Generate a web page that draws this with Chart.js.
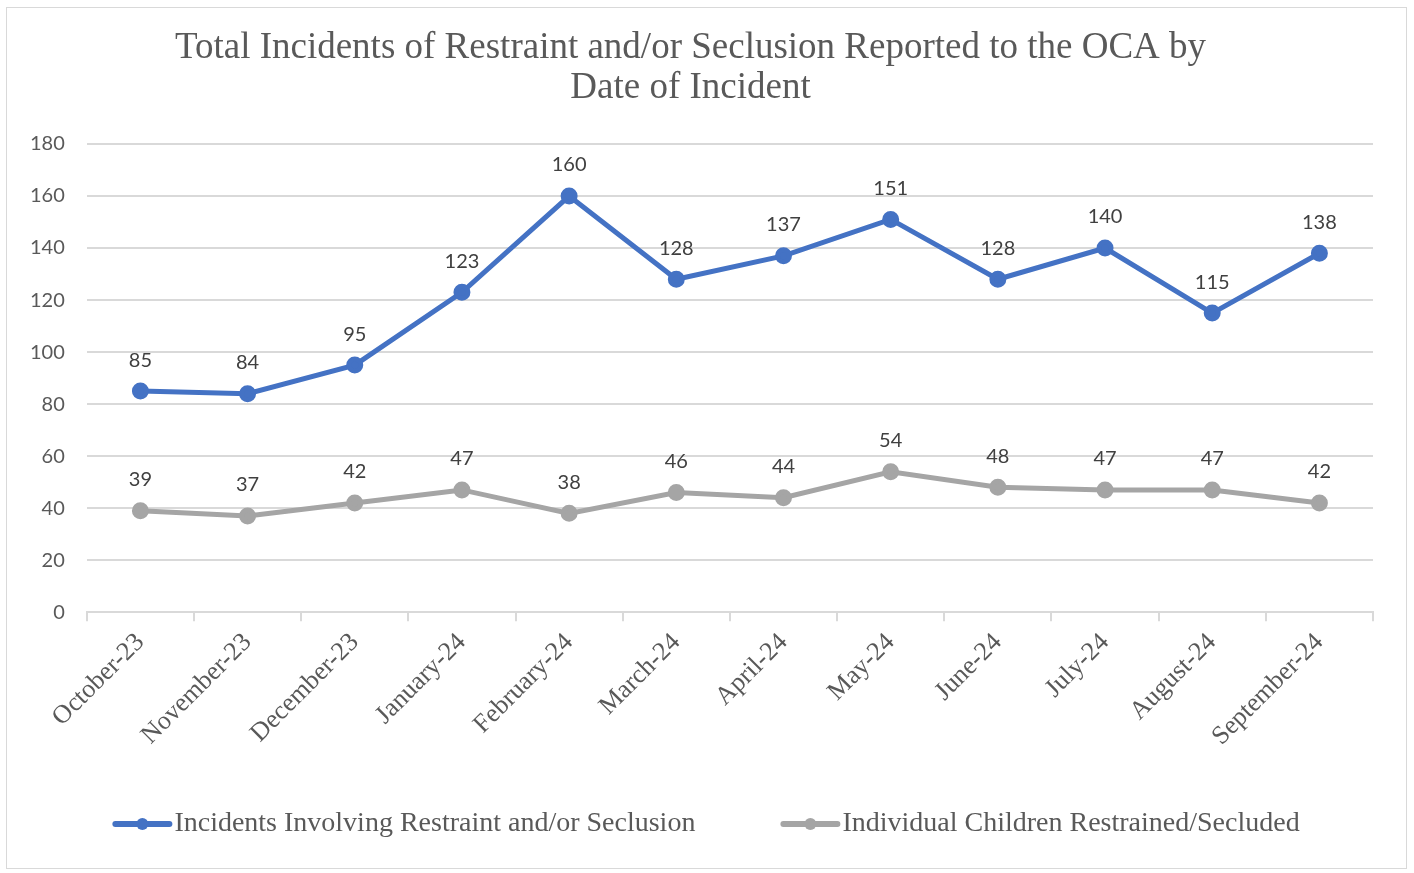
<!DOCTYPE html>
<html>
<head>
<meta charset="utf-8">
<script src="https://cdn.jsdelivr.net/npm/chart.js@4.4.1/dist/chart.umd.min.js"></script>
<style>
  html, body { margin: 0; padding: 0; background: #fff; }
  #wrap { position: absolute; left: 6px; top: 7px; width: 1401px; height: 862px; border: 1px solid #d9d9d9; box-sizing: border-box; }
</style>
</head>
<body>
<div id="wrap"><canvas id="chart"></canvas></div>
<script>
const months = ['October-23', 'November-23', 'December-23', 'January-24', 'February-24', 'March-24',
  'April-24', 'May-24', 'June-24', 'July-24', 'August-24', 'September-24'];
const incidents = [85, 84, 95, 123, 160, 128, 137, 151, 128, 140, 115, 138];
const children = [39, 37, 42, 47, 38, 46, 44, 54, 48, 47, 47, 42];
const seriesNames = ['Incidents Involving Restraint and/or Seclusion', 'Individual Children Restrained/Secluded'];
const yTicks = [0, 20, 40, 60, 80, 100, 120, 140, 160, 180];

const blue = '#4472C4';
const grey = '#A5A5A5';

// value labels above each point
const valueLabels = {
  id: 'valueLabels',
  afterDatasetsDraw(chart) {
    const ctx = chart.ctx;
    ctx.save();
    ctx.font = '20px Lato';
    ctx.fillStyle = '#404040';
    ctx.textAlign = 'center';
    ctx.textBaseline = 'middle';
    chart.data.datasets.forEach((ds, i) => {
      chart.getDatasetMeta(i).data.forEach((pt, j) => {
        ctx.fillText(ds.data[j], pt.x, pt.y - 31);
      });
    });
    ctx.restore();
  }
};

// legend drawn by hand: line + dot marker, text right after, wide gap between items
const lineLegend = {
  id: 'lineLegend',
  afterDraw(chart) {
    const ctx = chart.ctx;
    const markW = 58, markGap = 3, itemGap = 86;
    const y = chart.height - 44;
    ctx.save();
    ctx.font = '28px "Liberation Serif"';
    const items = chart.data.datasets.map(ds => ({ text: ds.label, color: ds.borderColor, w: ctx.measureText(ds.label).width }));
    const total = items.reduce((s, it) => s + markW + markGap + it.w, 0) + itemGap * (items.length - 1);
    let x = (chart.width - total) / 2;
    items.forEach(it => {
      ctx.strokeStyle = it.color;
      ctx.lineWidth = 6;
      ctx.lineCap = 'round';
      ctx.beginPath(); ctx.moveTo(x + 2, y); ctx.lineTo(x + markW - 2, y); ctx.stroke();
      ctx.fillStyle = it.color;
      ctx.beginPath(); ctx.arc(x + markW / 2, y, 6, 0, Math.PI * 2); ctx.fill();
      x += markW + markGap;
      ctx.fillStyle = '#595959';
      ctx.textAlign = 'left';
      ctx.textBaseline = 'middle';
      ctx.fillText(it.text, x, y);
      x += it.w + itemGap;
    });
    ctx.restore();
  }
};

new Chart('chart', {
  type: 'line',
  data: {
    labels: months,
    datasets: [{
      label: seriesNames[0],
      data: incidents,
      borderColor: blue,
      backgroundColor: blue,
      borderWidth: 5,
      pointRadius: 6,
      tension: 0
    }, {
      label: seriesNames[1],
      data: children,
      borderColor: grey,
      backgroundColor: grey,
      borderWidth: 5,
      pointRadius: 6,
      tension: 0
    }]
  },
  options: {
    responsive: true,
    maintainAspectRatio: false,
    animation: false,
    layout: { padding: { left: 1, right: 33, top: 12, bottom: 110 } },
    plugins: {
      title: {
        display: true,
        text: ['Total Incidents of Restraint and/or Seclusion Reported to the OCA by', 'Date of Incident'],
        font: { family: 'Liberation Serif', size: 37, weight: 'normal', lineHeight: '40px' },
        color: '#595959',
        padding: { top: 8, bottom: 36 }
      },
      legend: { display: false },
      tooltip: { enabled: false }
    },
    scales: {
      x: {
        offset: true,
        grid: { offset: true, drawOnChartArea: false, drawTicks: true, tickLength: 9, color: '#d9d9d9', lineWidth: 2 },
        border: { display: true, color: '#d9d9d9', width: 2 },
        ticks: {
          minRotation: 45, maxRotation: 45,
          padding: 6,
          font: { family: 'Liberation Serif', size: 26 },
          color: '#595959'
        }
      },
      y: {
        min: 0, max: 180,
        afterBuildTicks(scale) { scale.ticks = yTicks.map(v => ({ value: v })); },
        grid: { color: '#d9d9d9', lineWidth: 2, drawTicks: false },
        border: { display: false },
        ticks: {
          padding: 22,
          font: { family: 'Lato', size: 20 },
          color: '#595959'
        }
      }
    }
  },
  plugins: [valueLabels, lineLegend]
});
</script>
</body>
</html>
